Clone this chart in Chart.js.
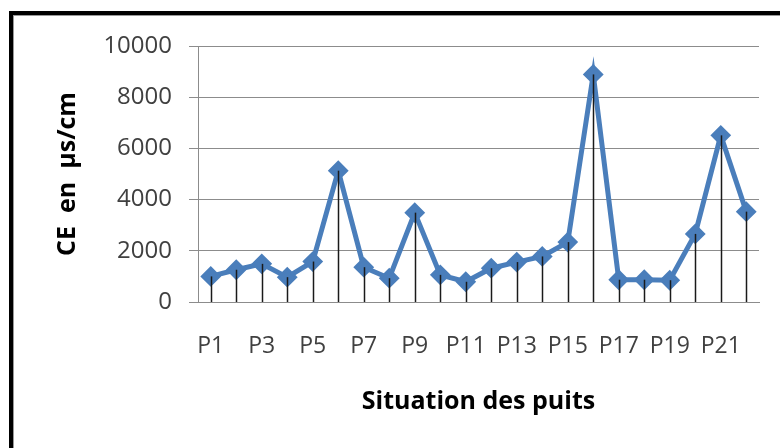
<!DOCTYPE html>
<html>
<head>
<meta charset="utf-8">
<script src="https://cdn.jsdelivr.net/npm/chart.js@4"></script>
<style>
  html, body { margin: 0; padding: 0; background: #fff; overflow: hidden; }
  #wrap { position: relative; width: 780px; height: 448px; }
  #frame {
    position: absolute; left: 9px; top: 11px; width: 820px; height: 500px;
    border: 4px solid #000; box-shadow: inset 1px 1px 0 #999;
  }
  canvas { position: absolute; left: 0; top: 0; }
</style>
</head>
<body>
<div id="wrap">
  <div id="frame"></div>
  <canvas id="ceChart" width="780" height="448"></canvas>
</div>
<script>
// --- data ---
const WELLS = ['P1', 'P2', 'P3', 'P4', 'P5', 'P6', 'P7', 'P8', 'P9', 'P10', 'P11',
  'P12', 'P13', 'P14', 'P15', 'P16', 'P17', 'P18', 'P19', 'P20', 'P21', 'P22'];
const CE_VALUES = [1000, 1260, 1490, 970, 1580, 5130, 1360, 930, 3490, 1060, 790,
  1320, 1560, 1780, 2340, 8890, 870, 870, 850, 2660, 6510, 3530];
const Y_TICKS = [0, 2000, 4000, 6000, 8000, 10000];

const FONT = "'Open Sans', 'Liberation Sans', sans-serif";

// drop lines from each point down to the axis
const dropLines = {
  id: 'dropLines',
  afterDatasetsDraw(chart) {
    const ctx = chart.ctx;
    const xs = chart.scales.x, ys = chart.scales.y;
    ctx.save();
    ctx.strokeStyle = '#1a1a1a';
    ctx.lineWidth = 1.5;
    CE_VALUES.forEach((v, i) => {
      const px = Math.round(xs.getPixelForValue(i)) + 0.5;
      ctx.beginPath();
      ctx.moveTo(px, ys.getPixelForValue(v));
      ctx.lineTo(px, ys.getPixelForValue(0));
      ctx.stroke();
    });
    ctx.restore();
  }
};

new Chart(document.getElementById('ceChart'), {
  type: 'line',
  data: {
    labels: WELLS,
    datasets: [{
      data: CE_VALUES,
      borderColor: '#4a7ebb',
      backgroundColor: '#4a7ebb',
      borderWidth: 5,
      pointStyle: 'rectRot',
      pointRadius: 9,
      pointBorderWidth: 2,
      tension: 0
    }]
  },
  options: {
    responsive: false,
    animation: false,
    layout: { padding: { left: 0, top: 46, right: 21, bottom: 0 } },
    plugins: { legend: { display: false }, tooltip: { enabled: false } },
    scales: {
      x: {
        offset: true,
        afterFit: s => { s.height = 146; },
        grid: { display: false },
        border: { display: true, color: '#8c8c8c', width: 1 },
        ticks: {
          autoSkip: false, maxRotation: 0, padding: 23,
          color: '#404040', font: { family: FONT, size: 23 },
          callback: (v, i) => (i % 2 === 0 ? WELLS[i] : '')
        },
        title: {
          display: true, text: 'Situation des puits', color: '#000',
          font: { family: FONT, size: 25, weight: 'bold' },
          padding: { top: 0, bottom: 31 }
        }
      },
      y: {
        min: 0, max: 10000,
        afterFit: s => { s.width = 198; },
        afterBuildTicks: s => { s.ticks = Y_TICKS.map(v => ({ value: v })); },
        grid: { color: '#8c8c8c', lineWidth: 1, tickLength: 9 },
        border: { display: true, color: '#8c8c8c', width: 1 },
        ticks: {
          padding: 17, color: '#404040',
          font: { family: FONT, size: 24 },
          callback: v => String(v)
        },
        title: {
          display: true, text: 'CE  en  µs/cm', color: '#000',
          font: { family: FONT, size: 25, weight: 'bold' },
          padding: { top: 53, bottom: 0 }
        }
      }
    }
  },
  plugins: [dropLines]
});
</script>
</body>
</html>
